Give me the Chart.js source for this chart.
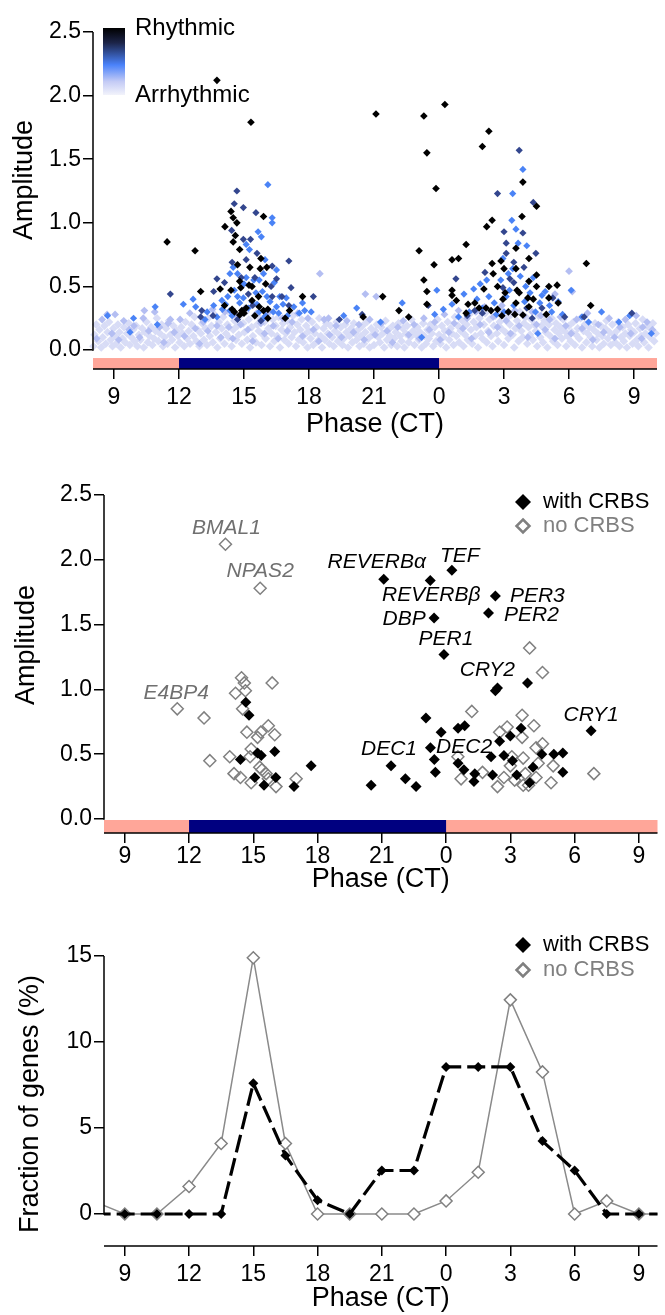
<!DOCTYPE html>
<html>
<head>
<meta charset="utf-8">
<script src="https://cdn.jsdelivr.net/npm/chart.js@4.4.0/dist/chart.umd.min.js"></script>
<style>
  html, body { margin: 0; padding: 0; background: #fff; }
  #wrap { position: relative; width: 665px; height: 1315px; }
  canvas { position: absolute; left: 0; }
</style>
</head>
<body>
<div id="wrap">
  <canvas id="phaseAll" width="665" height="450" style="top:0px"></canvas>
  <canvas id="phaseClock" width="665" height="450" style="top:450px"></canvas>
  <canvas id="phaseHist" width="665" height="415" style="top:900px"></canvas>
</div>
<script>
// phase is kept on a continuous hour axis: 24 = CT0, 27 = CT3, 33 = CT9 of the next day
var phaseTicks = [9, 12, 15, 18, 21, 24, 27, 30, 33];
var ampTicks = [0, 0.5, 1, 1.5, 2, 2.5];
var fracTicks = [0, 5, 10, 15];
var nightSpan = [12, 24];

// --- all genes, [phase, amplitude] pairs, grouped by rhythmicity ---
var allBlack = [
  13.75,2.12, 15.32,1.79, 21.09,1.855, 23.3,1.84, 24.27,1.93, 26.3,1.72, 26.0,1.6, 23.44,1.55, 23.86,1.27, 27.87,1.32,
  11.45,.85, 12.74,.78, 13.0,.46, 13.9,.48, 14.1,.35, 14.4,1.09, 14.5,1.04, 14.67,1.0, 14.12,.97, 14.6,.9,
  14.5,.85, 14.8,.79, 14.7,.67, 14.4,.47, 14.8,.54, 14.85,.49, 14.45,.32, 14.56,.3, 14.8,.275, 14.9,.31,
  15.1,.33, 15.0,.29, 15.27,.65, 15.23,.51, 15.37,.5, 15.37,.39, 15.5,.27, 15.67,.42, 15.7,.34, 15.78,.72,
  15.75,.64, 15.9,1.05, 16.05,.65, 16.0,.52, 16.1,.32, 16.1,.25, 15.9,.31, 16.9,.25, 17.1,.31, 17.7,.42,
  28.5,1.13, 27.83,1.05, 26.2,.97, 26.45,1.02, 25.25,.83, 23.08,.78, 23.77,.67, 24.6,.71, 24.9,.72, 23.3,.55,
  23.44,.46, 23.44,.36, 21.4,.42, 22.15,.31, 22.6,.26, 20.5,.26, 24.6,.47, 24.6,.43, 24.8,.39, 25.34,.36,
  25.25,.29, 26.07,.48, 26.17,.33, 26.4,.31, 26.5,.6, 26.45,.68, 26.86,.7, 27.0,.64, 26.7,.5, 27.05,.45,
  26.95,.4, 26.7,.32, 26.9,.27, 27.2,.3, 27.55,.8, 27.55,.64, 27.6,.47, 27.7,.45, 27.55,.37, 27.5,.28,
  27.87,.275, 28.1,.41, 28.15,.34, 28.15,.54, 28.15,.72, 28.5,.59, 28.5,.5, 28.35,.4, 29.07,.5, 29.07,.41,
  29.45,.51, 29.5,.37, 28.95,.28, 30.8,.68, 31.0,.35, 25.65,.37, 25.85,.33
];
var allDark = [
  15.92,2.55, 14.67,1.25, 11.6,.44, 14.55,1.15, 14.97,1.12, 15.55,1.08, 14.43,.94, 15.3,.87, 14.97,.87, 15.1,.71,
  15.6,.76, 14.45,.69, 16.3,.66, 13.75,.56, 14.1,.53, 13.6,.46, 13.05,.31, 13.0,.26, 13.57,.27, 14.87,.57,
  15.2,.44, 15.5,.57, 16.25,.5, 16.5,.56, 16.3,.42, 16.75,.42, 17.07,.7, 17.17,.49, 17.07,.35, 18.2,.42,
  14.7,.24, 15.4,.35, 15.78,.23, 19.4,.24,
  27.7,1.57, 26.7,1.23, 28.35,1.16, 27.0,.93, 27.1,.84, 27.1,.76, 27.87,.92, 28.47,.76, 27.45,.69, 26.12,.61,
  27.92,.65, 27.27,.56, 26.95,.49, 27.45,.53, 24.78,.56, 20.45,.28, 23.5,.35, 25.3,.27, 25.65,.31, 26.0,.29,
  28.05,.33, 28.3,.25, 28.75,.33, 29.25,.41, 29.8,.26, 30.7,.26, 32.9,.29
];
var allBlue = [
  16.1,1.3, 16.3,1.04, 16.3,1.0, 15.65,.93, 15.8,.89, 15.25,.79, 15.1,.83, 14.5,.65, 14.35,.6, 14.7,.6,
  15.1,.57, 15.7,.55, 15.9,.6, 15.97,.71, 16.5,.63, 16.4,.53, 16.65,.42, 16.06,.42, 15.55,.45, 14.97,.41,
  14.7,.42, 14.25,.42, 13.98,.39, 14.0,.32, 14.35,.31, 12.65,.4, 12.77,.34, 13.3,.3, 13.75,.26, 15.37,.38,
  15.7,.3, 16.0,.27, 16.5,.34, 16.6,.29, 17.3,.34, 17.7,.37, 17.55,.29, 17.8,.31, 8.7,.27, 10.9,.34,
  12.2,.36, 9.74,.14, 14.15,.36, 14.55,.47, 14.8,.37, 15.0,.52, 15.2,.33, 15.45,.55, 15.6,.36, 15.85,.46,
  16.2,.38, 16.35,.3, 16.8,.36, 17.0,.27, 13.6,.35, 13.2,.24, 14.45,.27, 15.9,.25, 16.95,.41, 18.1,.3,
  27.87,1.42, 27.4,1.23, 27.36,1.02, 27.65,.84, 28.05,.82, 27.4,.64, 27.2,.6, 26.2,.55, 25.6,.48, 23.9,.47,
  24.6,.36, 25.75,.4, 27.1,.42, 28.35,.57, 28.75,.43, 29.1,.35, 29.5,.38, 22.3,.37, 21.3,.22, 23.8,.28,
  30.1,.47, 30.6,.26, 32.8,.27, 33.8,.13, 28.56,.13, 23.2,.1, 25.9,.52, 26.3,.42, 26.55,.37, 26.85,.55,
  27.0,.3, 27.25,.47, 27.45,.35, 27.75,.58, 27.95,.38, 28.2,.45, 28.45,.3, 28.65,.37, 28.9,.46, 29.2,.3,
  29.7,.28, 25.4,.3, 25.15,.44, 24.9,.26, 26.0,.33, 26.65,.28, 28.0,.5, 27.55,.95, 26.95,.72, 24.2,.32,
  30.9,.22, 31.5,.3, 32.3,.22, 19.6,.27, 20.2,.33, 11.0,.2, 9.9,.25
];
var allLight = [
  8.2,.09, 8.45,.24, 8.68,.28, 8.9,.13, 9.22,.08, 9.45,.23, 9.7,.16, 9.92,.19, 10.18,.1, 10.35,.25,
  10.6,.15, 10.88,.3, 11.1,.18, 11.3,.06, 11.5,.21, 11.78,.14, 12.05,.24, 12.25,.11, 12.5,.29, 12.75,.17,
  12.95,.05, 13.12,.22, 13.33,.15, 13.55,.32, 13.75,.19, 13.93,.1, 14.12,.3, 14.3,.18, 14.48,.09, 14.65,.27,
  14.85,.2, 15.05,.33, 15.18,.16, 15.4,.07, 15.58,.29, 15.78,.21, 15.95,.13, 16.15,.3, 16.35,.19, 16.58,.09,
  16.78,.25, 17.0,.15, 17.22,.22, 17.48,.29, 17.7,.11, 17.95,.25, 18.2,.16, 18.45,.07, 18.7,.24, 18.95,.12,
  19.25,.19, 19.5,.1, 19.75,.23, 20.05,.14, 20.3,.2, 20.55,.08, 20.8,.24, 21.05,.12, 21.35,.21, 21.6,.15,
  21.85,.06, 22.1,.18, 22.35,.23, 22.6,.12, 22.85,.2, 23.1,.09, 23.3,.25, 23.55,.16, 23.8,.22, 24.05,.08,
  24.25,.28, 24.45,.14, 24.7,.21, 24.9,.31, 25.1,.17, 25.3,.25, 25.5,.09, 25.7,.3, 25.9,.2, 26.1,.34,
  26.3,.14, 26.5,.26, 26.7,.18, 26.9,.35, 27.1,.23, 27.3,.13, 27.5,.31, 27.7,.19, 27.9,.27, 28.1,.1,
  28.3,.3, 28.5,.2, 28.7,.27, 28.9,.16, 29.1,.24, 29.35,.09, 29.6,.26, 29.85,.19, 30.1,.13, 30.35,.24,
  30.6,.17, 30.85,.29, 31.1,.08, 31.35,.2, 31.6,.14, 31.85,.25, 32.1,.1, 32.35,.18, 32.6,.24, 32.85,.13,
  33.1,.27, 33.35,.09, 33.6,.22, 33.85,.16,
  20.6,.44, 21.1,.42, 30.0,.62, 30.15,.46, 29.35,.44, 18.5,.6, 10.4,.31, 9.05,.28, 11.6,.24, 18.9,.25, 33.4,.18
];
var allPale = [
  8.05,.03, 8.1,.12, 8.18,.2, 8.27,.07, 8.33,.16, 8.41,.02, 8.48,.1, 8.56,.19, 8.62,.05, 8.7,.14, 8.77,.22, 8.85,.08, 8.93,.03, 8.97,.17,
  9.04,.11, 9.1,.05, 9.18,.2, 9.25,.14, 9.31,.02, 9.39,.09, 9.46,.18, 9.52,.06, 9.6,.13, 9.68,.21, 9.73,.04, 9.8,.1, 9.88,.16, 9.95,.07,
  10.02,.19, 10.08,.03, 10.15,.12, 10.22,.08, 10.3,.17, 10.37,.02, 10.43,.14, 10.5,.22, 10.56,.06, 10.64,.11, 10.71,.18, 10.77,.04, 10.85,.09, 10.92,.15, 10.98,.25,
  11.05,.07, 11.12,.13, 11.2,.2, 11.26,.03, 11.33,.1, 11.4,.17, 11.47,.05, 11.54,.23, 11.6,.12, 11.68,.08, 11.74,.19, 11.82,.02, 11.88,.15, 11.95,.11,
  12.03,.06, 12.1,.18, 12.16,.13, 12.24,.03, 12.3,.22, 12.37,.09, 12.45,.15, 12.51,.05, 12.58,.2, 12.66,.11, 12.72,.26, 12.8,.07, 12.86,.16, 12.94,.03,
  13.01,.13, 13.07,.21, 13.15,.08, 13.22,.17, 13.29,.04, 13.35,.25, 13.42,.11, 13.5,.19, 13.56,.06, 13.63,.28, 13.7,.14, 13.77,.02, 13.84,.22, 13.9,.09, 13.97,.17,
  14.04,.26, 14.1,.05, 14.17,.13, 14.23,.2, 14.3,.1, 14.36,.29, 14.43,.03, 14.5,.16, 14.56,.23, 14.63,.08, 14.7,.19, 14.76,.12, 14.83,.27, 14.9,.05, 14.96,.21,
  15.02,.14, 15.09,.3, 15.15,.08, 15.22,.24, 15.28,.02, 15.35,.18, 15.41,.11, 15.48,.27, 15.55,.06, 15.61,.2, 15.68,.15, 15.74,.25, 15.81,.04, 15.87,.12, 15.94,.22,
  16.0,.09, 16.07,.28, 16.13,.17, 16.2,.03, 16.27,.13, 16.33,.24, 16.4,.07, 16.46,.19, 16.53,.11, 16.6,.26, 16.66,.02, 16.73,.16, 16.8,.21, 16.86,.08, 16.93,.13,
  17.0,.23, 17.06,.05, 17.13,.18, 17.2,.1, 17.26,.27, 17.33,.14, 17.4,.03, 17.46,.2, 17.53,.08, 17.6,.16, 17.66,.24, 17.73,.06, 17.8,.12, 17.87,.19, 17.93,.02,
  18.0,.15, 18.07,.09, 18.14,.22, 18.2,.04, 18.27,.13, 18.34,.18, 18.4,.07, 18.47,.25, 18.54,.11, 18.6,.02, 18.67,.17, 18.73,.08, 18.8,.21, 18.87,.13, 18.94,.05,
  19.0,.19, 19.07,.1, 19.14,.03, 19.2,.15, 19.27,.22, 19.34,.07, 19.4,.12, 19.47,.18, 19.54,.04, 19.6,.09, 19.67,.2, 19.73,.14, 19.8,.02, 19.87,.11, 19.94,.17,
  20.0,.06, 20.07,.21, 20.13,.13, 20.2,.08, 20.27,.16, 20.33,.03, 20.4,.11, 20.47,.19, 20.53,.05, 20.6,.14, 20.67,.22, 20.73,.09, 20.8,.02, 20.87,.17, 20.93,.12,
  21.0,.04, 21.07,.15, 21.13,.2, 21.2,.1, 21.27,.06, 21.33,.18, 21.4,.13, 21.47,.02, 21.53,.23, 21.6,.08, 21.67,.16, 21.73,.11, 21.8,.04, 21.87,.19, 21.93,.09,
  22.0,.14, 22.07,.03, 22.13,.21, 22.2,.11, 22.27,.07, 22.33,.17, 22.4,.02, 22.47,.13, 22.53,.19, 22.6,.06, 22.67,.1, 22.73,.24, 22.8,.15, 22.87,.04, 22.93,.12,
  23.0,.18, 23.07,.08, 23.13,.14, 23.2,.02, 23.27,.21, 23.33,.11, 23.4,.05, 23.47,.16, 23.53,.09, 23.6,.2, 23.67,.13, 23.73,.03, 23.8,.18, 23.87,.07, 23.93,.24,
  24.0,.12, 24.07,.05, 24.13,.19, 24.2,.1, 24.27,.15, 24.33,.02, 24.4,.22, 24.47,.08, 24.53,.17, 24.6,.13, 24.67,.04, 24.73,.26, 24.8,.11, 24.87,.19, 24.93,.06,
  25.0,.15, 25.07,.23, 25.13,.03, 25.2,.12, 25.27,.2, 25.33,.08, 25.4,.28, 25.47,.16, 25.53,.05, 25.6,.22, 25.67,.11, 25.73,.18, 25.8,.02, 25.87,.25, 25.93,.13,
  26.0,.09, 26.07,.2, 26.13,.29, 26.2,.06, 26.27,.15, 26.33,.24, 26.4,.11, 26.47,.03, 26.53,.19, 26.6,.27, 26.67,.13, 26.73,.07, 26.8,.22, 26.87,.17, 26.93,.3,
  27.0,.04, 27.07,.14, 27.13,.25, 27.2,.09, 27.27,.2, 27.33,.28, 27.4,.12, 27.47,.02, 27.53,.17, 27.6,.23, 27.67,.07, 27.73,.3, 27.8,.15, 27.87,.1, 27.93,.21,
  28.0,.26, 28.07,.05, 28.13,.18, 28.2,.12, 28.27,.24, 28.33,.08, 28.4,.2, 28.47,.15, 28.53,.03, 28.6,.27, 28.67,.1, 28.73,.19, 28.8,.06, 28.87,.23, 28.93,.14,
  29.0,.02, 29.07,.2, 29.13,.11, 29.2,.25, 29.27,.07, 29.33,.16, 29.4,.21, 29.47,.04, 29.53,.13, 29.6,.18, 29.67,.09, 29.73,.24, 29.8,.15, 29.87,.03, 29.93,.11,
  30.0,.19, 30.07,.07, 30.13,.14, 30.2,.22, 30.27,.04, 30.33,.12, 30.4,.17, 30.47,.09, 30.53,.25, 30.6,.02, 30.67,.15, 30.73,.2, 30.8,.06, 30.87,.13, 30.93,.18,
  31.0,.1, 31.07,.03, 31.13,.16, 31.2,.21, 31.27,.08, 31.33,.13, 31.4,.02, 31.47,.19, 31.53,.11, 31.6,.05, 31.67,.17, 31.73,.23, 31.8,.09, 31.87,.14, 31.93,.04,
  32.0,.2, 32.07,.12, 32.13,.06, 32.2,.15, 32.27,.22, 32.33,.03, 32.4,.1, 32.47,.18, 32.53,.07, 32.6,.13, 32.67,.02, 32.73,.2, 32.8,.11, 32.87,.16, 32.93,.05,
  33.0,.14, 33.07,.21, 33.13,.08, 33.2,.03, 33.27,.17, 33.33,.11, 33.4,.24, 33.47,.06, 33.53,.13, 33.6,.19, 33.67,.02, 33.73,.1, 33.8,.16, 33.87,.21, 33.93,.07, 34.0,.13
];

// --- clock-controlled genes, [phase, amplitude] pairs ---
var geneNames = ['BMAL1', 'NPAS2', 'E4BP4', 'REVERBα', 'REVERBβ', 'TEF', 'PER3', 'PER2', 'DBP', 'PER1', 'CRY2', 'CRY1', 'DEC1', 'DEC2'];
var genePhase = [13.7, 15.32, 11.45, 21.09, 23.26, 24.27, 26.3, 25.98, 23.44, 23.9, 26.3, 30.77, 21.43, 24.56];
var geneAmp   = [2.12, 1.78, 0.85, 1.85, 1.84, 1.92, 1.72, 1.59, 1.55, 1.27, 0.99, 0.68, 0.41, 0.43];
var geneCrbs  = [false, false, false, true, true, true, true, true, true, true, true, true, true, true];
var withCrbs = [
  26.4,1.01, 27.8,1.05, 14.65,.9, 14.8,.8, 14.4,.46, 15.2,.51, 15.37,.49, 15.07,.32, 15.5,.26, 16.0,.52,
  16.05,.32, 16.9,.25, 17.7,.41, 20.5,.26, 22.1,.31, 22.6,.25, 23.06,.78, 23.27,.55, 23.45,.46, 23.5,.36,
  23.77,.67, 24.56,.7, 24.87,.72, 24.83,.38, 25.34,.35, 25.3,.29, 26.1,.48, 26.17,.34, 26.5,.6, 26.7,.49,
  27.0,.64, 27.1,.45, 27.3,.34, 27.5,.7, 27.9,.28, 28.06,.4, 28.47,.5, 29.03,.5, 29.45,.51, 29.45,.36
];
var noCrbs = [
  14.45,1.09, 14.58,1.05, 14.17,.97, 14.63,.99, 15.88,1.05, 27.9,1.32, 28.5,1.13, 12.7,.78, 12.97,.45, 13.9,.48,
  14.1,.35, 14.5,.85, 14.7,.67, 14.4,.32, 14.9,.28, 14.85,.48, 14.9,.54, 15.2,.63, 15.35,.67, 15.7,.72,
  16.0,.65, 15.3,.4, 15.4,.38, 15.6,.35, 15.7,.31, 16.06,.25, 17.0,.31, 24.55,.48, 25.2,.83, 24.7,.31,
  25.7,.36, 26.4,.25, 26.5,.67, 26.85,.71, 26.7,.32, 27.0,.41, 27.07,.48, 27.2,.3, 27.55,.8, 27.55,.63,
  27.6,.47, 27.7,.35, 27.6,.26, 28.1,.72, 28.2,.55, 28.5,.58, 28.3,.43, 28.2,.32, 29.0,.41, 28.9,.28,
  30.9,.35, 27.85,.26
];

// --- phase distribution, % of genes per 1.5 h bin ---
var binPhase   = [7.5, 9, 10.5, 12, 13.5, 15, 16.5, 18, 19.5, 21, 22.5, 24, 25.5, 27, 28.5, 30, 31.5, 33, 34.5];
var fracWith   = [0, 0, 0, 0, 0, 7.6, 3.4, 0.8, 0, 2.53, 2.53, 8.55, 8.55, 8.55, 4.24, 2.53, 0, 0, 0];
var fracWithout= [0.76, 0, 0, 1.6, 4.1, 14.9, 4.1, 0, 0, 0, 0, 0.76, 2.43, 12.45, 8.26, 0, 0.76, 0, 0];

var fontFamily = '"Liberation Sans", Arial, Helvetica, sans-serif';
Chart.defaults.font.family = fontFamily;
Chart.defaults.color = '#000';

function pairs(a) {
  var out = [];
  for (var i = 0; i < a.length; i += 2) out.push({x: a[i], y: a[i + 1]});
  return out;
}

function diamond(ctx, x, y, r) {
  ctx.beginPath();
  ctx.moveTo(x, y - r); ctx.lineTo(x + r, y); ctx.lineTo(x, y + r); ctx.lineTo(x - r, y);
  ctx.closePath();
}

function phaseAxis(min, max, height, tickPad, titlePad) {
  return {
    type: 'linear', min: min, max: max,
    afterBuildTicks: function (ax) { ax.ticks = phaseTicks.map(function (v) { return {value: v}; }); },
    afterFit: function (ax) { ax.height = height; },
    ticks: { autoSkip: false, maxRotation: 0, padding: tickPad, font: {size: 23},
             callback: function (v) { return String(v % 24); } },
    grid: { drawOnChartArea: false, tickLength: 10, color: '#000', lineWidth: 1.5 },
    border: { display: false },
    title: { display: true, text: 'Phase (CT)', font: {size: 27}, padding: {top: 0, bottom: titlePad} }
  };
}

function valueAxis(min, max, ticks, fmt) {
  return {
    type: 'linear', min: min, max: max,
    afterBuildTicks: function (ax) { ax.ticks = ticks.map(function (v) { return {value: v}; }); },
    afterFit: function (ax) { ax.width = ax.chart.options.axisLeft; },
    ticks: { autoSkip: false, padding: 2, font: {size: 23}, callback: fmt },
    grid: { drawOnChartArea: false, tickLength: 10, color: '#000', lineWidth: 1.5 },
    border: { display: false },
    title: { display: false }
  };
}

// axis lines, the vertical axis title and the light/dark bar under the plot
var frame = {
  id: 'frame',
  afterDatasetsDraw: function (chart, args, o) {
    var ctx = chart.ctx, a = chart.chartArea, x = chart.scales.x, y = chart.scales.y;
    var y0 = y.getPixelForValue(0), yTop = y.getPixelForValue(y.max);
    ctx.save();
    if (o.bar) {
      var bt = y0 + o.gap;
      ctx.fillStyle = '#fff';
      ctx.fillRect(a.left, y0 + 2, a.right - a.left, a.bottom - y0 - 2);
      ctx.fillStyle = '#ffa699';
      ctx.fillRect(a.left, bt, a.right - a.left, a.bottom - bt);
      var n0 = x.getPixelForValue(nightSpan[0]), n1 = x.getPixelForValue(nightSpan[1]);
      ctx.fillStyle = '#000080';
      ctx.fillRect(n0, bt, n1 - n0, a.bottom - bt);
    }
    ctx.strokeStyle = '#000';
    ctx.lineWidth = 1.5;
    ctx.beginPath();
    ctx.moveTo(a.left, yTop); ctx.lineTo(a.left, y0 + 0.75);
    ctx.moveTo(a.left, a.bottom); ctx.lineTo(a.right, a.bottom);
    ctx.stroke();
    // rotated axis title
    ctx.translate(o.titleX, o.titleY);
    ctx.rotate(-Math.PI / 2);
    ctx.fillStyle = '#000';
    ctx.font = '27px ' + fontFamily;
    ctx.textAlign = 'center';
    ctx.textBaseline = 'middle';
    ctx.fillText(o.title, 0, 0);
    ctx.restore();
  }
};

// colour key for the rhythmicity scale
var rhythmKey = {
  id: 'rhythmKey',
  afterDraw: function (chart, args, o) {
    var ctx = chart.ctx;
    ctx.save();
    var g = ctx.createLinearGradient(0, o.top, 0, o.top + o.h);
    g.addColorStop(0, '#000000');
    g.addColorStop(0.22, '#1c2448');
    g.addColorStop(0.55, '#4a82fa');
    g.addColorStop(0.8, '#c4cbf5');
    g.addColorStop(1, '#f2f3fb');
    ctx.fillStyle = g;
    ctx.fillRect(o.left, o.top, o.w, o.h);
    ctx.fillStyle = '#000';
    ctx.font = o.size + 'px ' + fontFamily;
    ctx.textBaseline = 'middle';
    ctx.fillText('Rhythmic', o.textX, o.top);
    ctx.fillText('Arrhythmic', o.textX, o.top + o.h);
    ctx.restore();
  }
};

// filled / open diamond key for the CRBS panels
var crbsKey = {
  id: 'crbsKey',
  afterDraw: function (chart, args, o) {
    var ctx = chart.ctx;
    ctx.save();
    ctx.font = o.size + 'px ' + fontFamily;
    ctx.textBaseline = 'middle';
    chart.data.datasets.forEach(function (ds, i) {
      var y = o.y + i * o.step;
      if (i === 0) {
        diamond(ctx, o.x, y, 8);
        ctx.fillStyle = '#000'; ctx.fill();
      } else {
        diamond(ctx, o.x, y, 6.5);
        ctx.lineWidth = 2.5; ctx.strokeStyle = '#808080'; ctx.stroke();
      }
      ctx.fillStyle = i === 0 ? '#000' : '#808080';
      ctx.fillText(ds.label, o.x + 20, y);
    });
    ctx.restore();
  }
};

// italic gene names beside their points
var geneTags = {
  id: 'geneTags',
  afterDatasetsDraw: function (chart, args, o) {
    var ctx = chart.ctx, x = chart.scales.x, y = chart.scales.y;
    ctx.save();
    ctx.font = 'italic ' + o.size + 'px ' + fontFamily;
    ctx.textAlign = 'center';
    ctx.textBaseline = 'middle';
    geneNames.forEach(function (name, i) {
      var off = o.offsets[name];
      ctx.fillStyle = geneCrbs[i] ? '#000' : '#707070';
      ctx.fillText(name, x.getPixelForValue(genePhase[i]) + off[0], y.getPixelForValue(geneAmp[i]) + off[1]);
    });
    ctx.restore();
  }
};

var baseOpts = {
  responsive: false,
  animation: false,
  events: [],
  plugins: { legend: {display: false}, tooltip: {enabled: false} }
};

function dot(color, r) {
  return { pointStyle: 'rectRot', pointRadius: r, pointBackgroundColor: color, pointBorderWidth: 0,
           showLine: false, clip: false };
}

// ---------- top: every gene ----------
new Chart(document.getElementById('phaseAll'), {
  type: 'scatter',
  data: { datasets: [
    Object.assign({label: 'Rhythmic', data: pairs(allBlack)}, dot('#000000', 3.8)),
    Object.assign({label: 'dark', data: pairs(allDark)}, dot('#33468e', 3.6)),
    Object.assign({label: 'blue', data: pairs(allBlue)}, dot('#4a83f6', 3.6)),
    Object.assign({label: 'light', data: pairs(allLight)}, dot('#b4bef2', 3.9)),
    Object.assign({label: 'Arrhythmic', data: pairs(allPale)}, dot('#d8dcf6', 4.3))
  ]},
  options: Object.assign({}, baseOpts, {
    axisLeft: 93,
    layout: { padding: {left: 0, right: 8, top: 32, bottom: 0} },
    scales: {
      x: phaseAxis(8.03, 34.06, 81, 5, 9),
      y: valueAxis(-0.149, 2.5, ampTicks, function (v) { return v.toFixed(1); })
    },
    plugins: Object.assign({}, baseOpts.plugins, {
      frame: {bar: true, gap: 8, title: 'Amplitude', titleX: 25, titleY: 180},
      rhythmKey: {left: 103, top: 28, w: 22, h: 67, textX: 135, size: 24}
    })
  }),
  plugins: [frame, rhythmKey]
});

// ---------- middle: clock-controlled genes ----------
var clockWith = pairs(withCrbs), clockNo = pairs(noCrbs);
geneNames.forEach(function (n, i) {
  (geneCrbs[i] ? clockWith : clockNo).push({x: genePhase[i], y: geneAmp[i]});
});

new Chart(document.getElementById('phaseClock'), {
  type: 'scatter',
  data: { datasets: [
    { label: 'with CRBS', data: clockWith, pointStyle: 'rectRot', pointRadius: 5.5,
      pointBackgroundColor: '#000', pointBorderWidth: 0, clip: false },
    { label: 'no CRBS', data: clockNo, pointStyle: 'rectRot', pointRadius: 6,
      pointBackgroundColor: 'rgba(0,0,0,0)', pointBorderColor: '#808080', pointBorderWidth: 1.5, clip: false }
  ]},
  options: Object.assign({}, baseOpts, {
    axisLeft: 104,
    layout: { padding: {left: 0, right: 0, top: 45, bottom: 0} },
    scales: {
      x: phaseAxis(8.03, 33.87, 67, 0, 4),
      y: valueAxis(-0.108, 2.5, ampTicks, function (v) { return v.toFixed(1); })
    },
    plugins: Object.assign({}, baseOpts.plugins, {
      frame: {bar: true, gap: 1, title: 'Amplitude', titleX: 27, titleY: 195},
      crbsKey: {x: 523, y: 52, step: 24, size: 22},
      geneTags: { size: 21, offsets: {
        'BMAL1': [1, -16], 'NPAS2': [0, -17], 'E4BP4': [-1, -16], 'REVERBα': [-7, -17], 'REVERBβ': [1, 15],
        'TEF': [8, -14], 'PER3': [42, 0], 'PER2': [43, 2], 'DBP': [-30, 1], 'PER1': [2, -15],
        'CRY2': [-8, -21], 'CRY1': [0, -16], 'DEC1': [-2, -17], 'DEC2': [6, -16]
      } }
    })
  }),
  plugins: [frame, crbsKey, geneTags]
});

// ---------- bottom: phase distribution ----------
function binPoints(vals) {
  return binPhase.map(function (p, i) { return {x: p, y: vals[i]}; });
}

new Chart(document.getElementById('phaseHist'), {
  type: 'line',
  data: { datasets: [
    { label: 'with CRBS', data: binPoints(fracWith), borderColor: '#000', borderWidth: 3.2,
      borderDash: [18, 6], pointStyle: 'rectRot', pointRadius: 5, pointBackgroundColor: '#000',
      pointBorderWidth: 0, tension: 0, clip: {left: 0, right: 0, top: false, bottom: false} },
    { label: 'no CRBS', data: binPoints(fracWithout), borderColor: '#8a8a8a', borderWidth: 1.5,
      pointStyle: 'rectRot', pointRadius: 6, pointBackgroundColor: '#fff', pointBorderColor: '#808080',
      pointBorderWidth: 1.5, tension: 0, clip: {left: 0, right: 0, top: false, bottom: false} }
  ]},
  options: Object.assign({}, baseOpts, {
    axisLeft: 104,
    layout: { padding: {left: 0, right: 0, top: 56, bottom: 0} },
    scales: {
      x: phaseAxis(8.03, 33.87, 69, 5, 0),
      y: valueAxis(-1.86, 15, fracTicks, function (v) { return String(v); })
    },
    plugins: Object.assign({}, baseOpts.plugins, {
      frame: {bar: false, title: 'Fraction of genes (%)', titleX: 31, titleY: 204},
      crbsKey: {x: 523, y: 45, step: 25, size: 22}
    })
  }),
  plugins: [frame, crbsKey]
});
</script>
</body>
</html>
